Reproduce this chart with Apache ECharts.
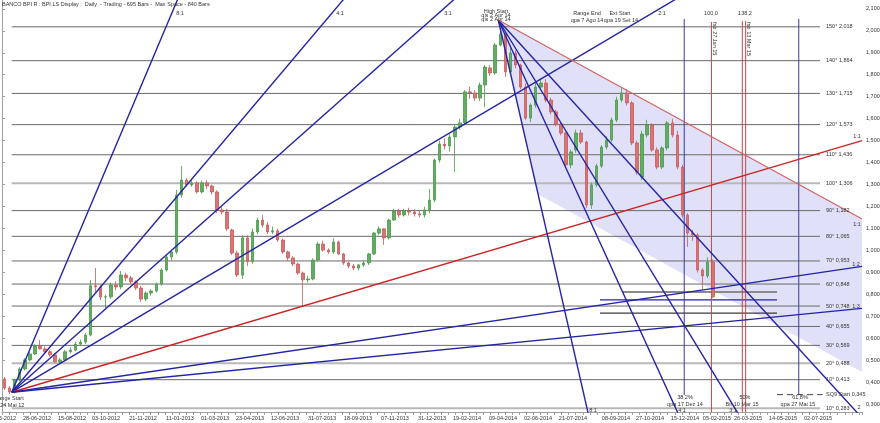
<!DOCTYPE html>
<html><head><meta charset="utf-8">
<script src="https://cdn.jsdelivr.net/npm/echarts@6/dist/echarts.min.js"></script>
<style>html,body{margin:0;padding:0;background:#fff}#c{width:880px;height:423px}</style>
</head><body><div id="c"></div>
<script>
// ---------- DATA ----------
// x axis = trading-bar index; date tick labels
const tickIdx = [0,34.6,69.2,102.8,139.4,175.9,210.5,245.1,279.7,316.3,351.8,388.4,425,459.6,495.2,529.8,564.3,606.8,640.5,675,706.6,737.3,771.9,806.5];
const tickLabels = ["10-05-2012","28-06-2012","15-08-2012","03-10-2012","21-11-2012","11-01-2013","01-03-2013","23-04-2013","12-06-2013","31-07-2013","18-09-2013","07-11-2013","31-12-2013","19-02-2014","09-04-2014","02-06-2014","21-07-2014","08-09-2014","27-10-2014","15-12-2014","05-02-2015","26-03-2015","14-05-2015","02-07-2015"];
const yTicks = [0.3,0.4,0.5,0.6,0.7,0.8,0.9,1.0,1.1,1.2,1.3,1.4,1.5,1.6,1.7,1.8,1.9,2.0,2.1];

// weekly OHLC [open, close, low, high], one per 5 trading bars from bar 0
const weeklyOHLC = [
[.416,.375,.366,.425],[.375,.357,.348,.384],[.357,.412,.350,.418],[.412,.462,.405,.470],[.462,.503,.455,.510],
[.503,.530,.495,.540],[.530,.566,.525,.575],[.566,.553,.550,.594],[.553,.540,.530,.565],[.540,.526,.518,.548],
[.526,.494,.488,.532],[.494,.503,.485,.512],[.503,.540,.498,.548],[.540,.548,.532,.560],[.548,.575,.542,.585],
[.575,.584,.568,.595],[.584,.616,.575,.625],[.616,.840,.610,.867],[.840,.835,.812,.921],[.835,.789,.775,.845],
[.789,.790,.735,.800],[.790,.844,.780,.855],[.844,.835,.820,.860],[.835,.889,.825,.907],[.889,.876,.860,.900],
[.876,.858,.850,.885],[.858,.830,.820,.865],[.830,.780,.767,.840],[.780,.807,.770,.815],[.807,.816,.795,.825],
[.816,.848,.810,.855],[.848,.912,.840,.920],[.912,.971,.905,.980],[.971,.994,.953,.995],[.994,1.253,.985,1.276],
[1.253,1.321,1.24,1.385],[1.321,1.299,1.29,1.33],[1.299,1.308,1.29,1.32],[1.308,1.267,1.26,1.315],[1.267,1.308,1.26,1.32],
[1.308,1.294,1.28,1.32],[1.294,1.267,1.255,1.30],[1.267,1.185,1.17,1.275],[1.185,1.176,1.165,1.20],[1.176,1.099,1.09,1.19],
[1.094,.989,.98,1.10],[.989,.889,.88,1.0],[.889,1.058,.871,1.07],[1.058,.95,.93,1.07],[.95,1.085,.94,1.10],
[1.085,1.139,1.075,1.15],[1.139,1.117,1.105,1.162],[1.117,1.085,1.075,1.13],[1.085,1.09,1.075,1.11],[1.09,1.048,1.04,1.10],
[1.048,.994,.985,1.055],[.994,.967,.955,1.0],[.967,.939,.93,.975],[.939,.898,.89,.945],[.898,.867,.744,.905],
[.867,.871,.855,.885],[.871,.957,.865,.965],[.957,1.03,.95,1.04],[1.03,1.003,.995,1.045],[1.003,.994,.985,1.01],
[.994,1.039,.985,1.057],[1.039,.985,.98,1.045],[.985,.944,.935,.99],[.944,.93,.92,.95],[.93,.921,.91,.94],
[.921,.935,.91,.94],[.935,.944,.925,.955],[.944,.985,.935,.99],[.985,1.08,.98,1.085],[1.08,1.099,1.07,1.11],
[1.099,1.058,1.026,1.10],[1.058,1.139,1.05,1.145],[1.139,1.18,1.135,1.19],[1.18,1.162,1.15,1.19],[1.162,1.18,1.155,1.19],
[1.18,1.176,1.16,1.195],[1.176,1.167,1.155,1.19],[1.167,1.162,1.15,1.185],[1.162,1.185,1.15,1.20],[1.185,1.23,1.17,1.28],
[1.23,1.412,1.22,1.42],[1.412,1.485,1.40,1.50],[1.485,1.476,1.46,1.51],[1.476,1.517,1.45,1.53],[1.517,1.562,1.358,1.575],
[1.562,1.581,1.55,1.60],[1.581,1.722,1.57,1.73],[1.722,1.717,1.69,1.745],[1.717,1.694,1.68,1.73],[1.694,1.753,1.68,1.765],
[1.753,1.835,1.653,1.845],[1.831,1.808,1.795,1.845],[1.808,1.935,1.80,1.945],[1.935,1.985,1.93,2.004],[1.985,1.813,1.79,1.99],
[1.813,1.899,1.80,1.93],[1.899,1.844,1.83,1.91],[1.844,1.744,1.735,1.85],[1.744,1.603,1.595,1.76],[1.603,1.662,1.585,1.67],
[1.662,1.744,1.65,1.77],[1.744,1.762,1.735,1.78],[1.762,1.685,1.675,1.78],[1.685,1.631,1.62,1.695],[1.631,1.576,1.565,1.64],
[1.576,1.535,1.525,1.585],[1.535,1.39,1.38,1.54],[1.39,1.449,1.375,1.46],[1.458,1.535,1.445,1.55],[1.535,1.494,1.485,1.55],
[1.494,1.208,1.195,1.50],[1.208,1.299,1.19,1.31],[1.299,1.385,1.29,1.395],[1.385,1.471,1.375,1.48],[1.471,1.503,1.46,1.52],
[1.503,1.594,1.495,1.605],[1.594,1.685,1.585,1.70],[1.685,1.717,1.675,1.74],[1.717,1.672,1.66,1.735],[1.672,1.49,1.48,1.68],
[1.49,1.358,1.345,1.50],[1.335,1.53,1.32,1.545],[1.526,1.571,1.515,1.595],[1.571,1.458,1.45,1.58],[1.458,1.38,1.37,1.47],
[1.38,1.467,1.37,1.475],[1.467,1.581,1.455,1.59],[1.581,1.526,1.515,1.60],[1.526,1.38,1.37,1.545],[1.38,1.162,1.15,1.39],
[1.162,1.08,1.017,1.17],[1.08,1.071,1.045,1.095],[1.071,.912,.90,1.08],[.912,.885,.825,.92],[.885,.948,.875,.97],
[.948,.79,.785,.96]
];

// Square of 9 levels
const sq9Values = [2.018,1.864,1.715,1.573,1.436,1.306,1.182,1.065,0.953,0.848,0.748,0.655,0.569,0.488,0.413,0.345,0.283];
const sq9Labels = ["150° 2,018","140° 1,864","130° 1,715","120° 1,573","110° 1,436","100° 1,306","90° 1,182","80° 1,065","70° 0,953","60° 0,848","50° 0,748","40° 0,655","30° 0,569","20° 0,488","10° 0,413","SQ9 Start 0,345","10° 0,283"];
const sq9Light = [1.306,0.488,0.283];

// Gann fans
const upFanOrigin = [9.6, 0.356];          // Range Start 24 Mai 12
const upFanUnit = 0.001362;                 // price per bar for 1:1
const upFanRatios = [8,4,3,2,1,0.5,1/3];
const downFanOrigin = [490.5, 2.049];       // High Start 2 Apr 14
const downFanUnit = 0.002517;
const downFanRatios = [8,4,3,2,1];
// shaded channel polygon (bar index, price)
const shadePoly = [[490.5,2.049],[529.9,1.256],[850,0.448],[850,1.144]];

// vertical time lines [barIndex, top price, bottom price, kind]
const vLines = [[674.3,2.054,0.343,'b'],[701.2,2.040,0.266,'r'],[731.7,2.045,0.266,'r'],[735.0,2.045,0.266,'r'],[787.5,2.054,0.343,'b']];
// short horizontal segments [fromBar, toBar, price, kind]
const hSegs = [[612.8,766,0.812,'g'],[591,766,0.776,'b'],[591,766,0.716,'k']];
const sq9StartSeg = [766, 811, 0.345];

// ---------- CHART ----------
const FONT = 'Liberation Sans, Arial, sans-serif';
const FS = 5.5;
const chart = echarts.init(document.getElementById('c'));
const BLUE = '#2424a4', RED = '#cc2424';
const series = [];

series.push({type:'custom', z:1, silent:true, clip:true,
  renderItem:(p, api)=>({type:'polygon', shape:{points: shadePoly.map(q=>api.coord(q))}, style:{fill:'rgba(205,205,243,0.62)'}}),
  data:[shadePoly[0]]});

sq9Values.forEach((v,k)=>{
  const light = sq9Light.includes(v);
  if (v === 0.345) {
    series.push({type:'line', z:2, silent:true, symbol:'none', data:[[sq9StartSeg[0],v],[sq9StartSeg[1],v]],
      lineStyle:{color:'#444', width:1, type:[6,4]}});
  } else {
    series.push({type:'line', z:2, silent:true, symbol:'none', data:[[upFanOrigin[0],v],[808.5,v]],
      lineStyle:{color: light ? '#b8b8b8' : '#6a6a6a', width: light ? 2 : 1}});
  }
});

hSegs.forEach(s=>{
  const c = s[3]==='g' ? '#8a8a8a' : s[3]==='b' ? BLUE : '#3a3a3a';
  series.push({type:'line', z:3, silent:true, symbol:'none', data:[[s[0],s[2]],[s[1],s[2]]],
    lineStyle:{color:c, width: s[3]==='g'?2:1.3}});
});

vLines.forEach(s=>{
  series.push({type:'line', z:3, silent:true, symbol:'none', data:[[s[0],s[1]],[s[0],s[2]]],
    lineStyle:{color: s[3]==='r' ? '#c44848' : '#3a3aa4', width:1}});
});

series.push({type:'candlestick', z:4, silent:true, barWidth:3,
  encode:{x:0, y:[1,2,3,4]},
  data: weeklyOHLC.map((d,w)=>[5*w+2.5, d[0], d[1], d[2], d[3]]),
  itemStyle:{color:'#62ad62', color0:'#d87474', borderColor:'#4a984a', borderColor0:'#c65a5a', borderWidth:0.8}});

upFanRatios.forEach(r=>{
  const end = 850;
  series.push({type:'line', z:5, silent:true, symbol:'none', clip:true,
    data:[upFanOrigin,[end, upFanOrigin[1] + r*upFanUnit*(end-upFanOrigin[0])]],
    lineStyle:{color: r===1 ? RED : BLUE, width:1.4}});
});
downFanRatios.forEach(r=>{
  const end = 850;
  series.push({type:'line', z:5, silent:true, symbol:'none', clip:true,
    data:[downFanOrigin,[end, downFanOrigin[1] - r*downFanUnit*(end-downFanOrigin[0])]],
    lineStyle:{color: r===1 ? '#d46060' : BLUE, width: r===1 ? 1.1 : 1.4}});
});

const fmtPrice = v => v.toFixed(3).replace('.', ',');

chart.setOption({
  animation:false,
  backgroundColor:'#fff',
  grid:{left:2, right:18, top:0, bottom:11, containLabel:false, outerBoundsMode:'none'},
  xAxis:{type:'value', min:0, max:850, interval:7,
    axisLine:{lineStyle:{color:'#a0a0a0'}},
    axisTick:{length:3, lineStyle:{color:'#a0a0a0'}},
    splitLine:{show:false},
    axisLabel:{customValues: tickIdx, margin:3, fontSize:FS, fontFamily:FONT, color:'#333', hideOverlap:false,
      formatter: v => { const i = tickIdx.findIndex(t=>Math.abs(t-v)<1e-6); return i>=0 ? tickLabels[i] : ''; }}},
  yAxis:{type:'value', position:'right', min:0.266, max:2.140,
    axisLine:{show:true, lineStyle:{color:'#a0a0a0'}},
    axisTick:{show:true, length:3, customValues:yTicks, lineStyle:{color:'#a0a0a0'}},
    splitLine:{show:false},
    axisLabel:{customValues: yTicks, margin:4, fontSize:FS, fontFamily:FONT, color:'#333', formatter: fmtPrice}},
  series
});

// ---------- TEXT ANNOTATIONS ----------
const T = (text, x, y, opt={}) => ({type:'text', x, y, z:50, silent:true, rotation: opt.rot||0,
  style:{text, fill: opt.fill||'#333', font: FS+'px '+FONT, align: opt.align||'center', verticalAlign:'middle'}});
const g = [];
g.push(T('BANCO BPI R : BPI.LS Display :  Daily  - Trading - 695 Bars -  Max Space - 840 Bars', 2, 4, {align:'left'}));
g.push(T('8:1',180,13), T('4:1',340,13), T('3:1',448,13), T('2:1',662,13));
g.push(T('High Start',496,11), T('qis 2 Apr 14',496,15), T('qis 2 Apr 14',496,19));
g.push(T('Range End',587,13), T('qpa 7 Ago 14',587,20), T('Ext Start',620,13), T('qpa 19 Set 14',621,20));
g.push(T('100,0',711,13), T('138,2',745,13));
g.push(T('fab 27 Jan 15',715,22,{align:'left', rot:-Math.PI/2}), T('fab 13 Mar 15',748.5,22,{align:'left', rot:-Math.PI/2}));
g.push(T('1:1',857,136), T('1:1',857,224), T('1:2',856,264), T('1:3',856,306), T('2',859,407));
g.push(T('38,2%',685,397), T('qpa 17 Dez 14',685,404), T('50%',745,397), T('Bir 10 Mar 15',742,404), T('61,8%',800,397), T('qpa 27 Mai 15',798,404));
g.push(T('8:1',593,410), T('4:1',682,410), T('3:1',733,410));
g.push(T('Range Start',9,398), T('qis 24 Mai 12',8,405));
sq9Values.forEach((v,k)=>{
  const p = chart.convertToPixel({xAxisIndex:0, yAxisIndex:0}, [814, v]);
  g.push(T(sq9Labels[k], 826, p[1], {align:'left'}));
});
chart.setOption({graphic: g});
</script>
</body></html>
